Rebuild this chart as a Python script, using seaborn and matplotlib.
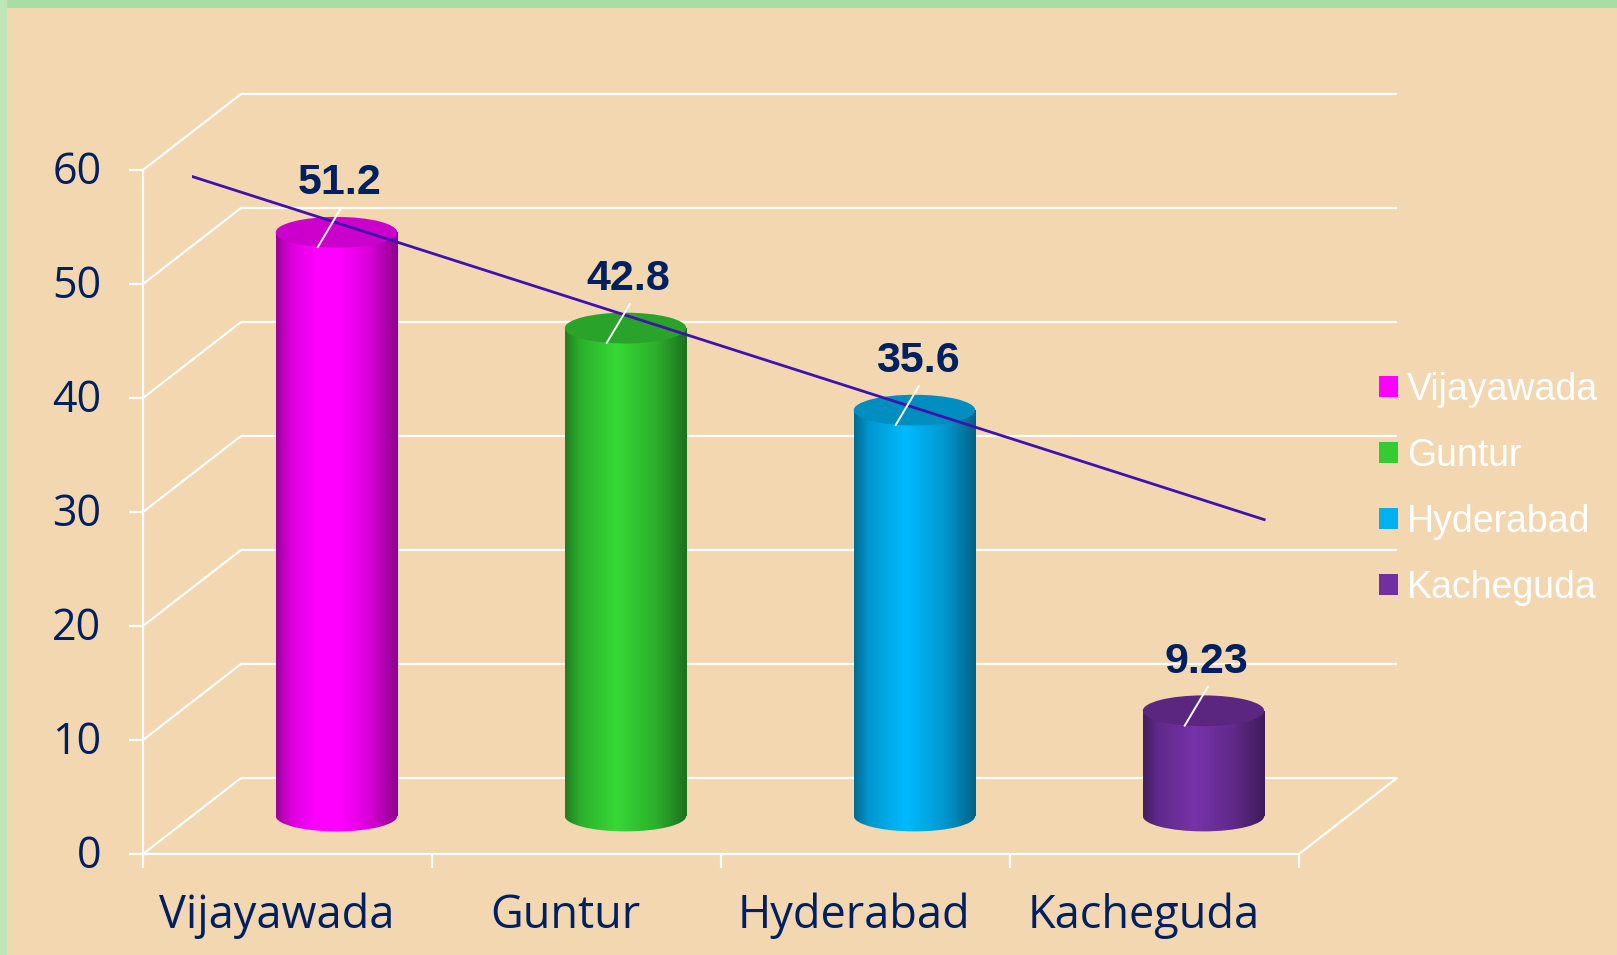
import numpy as np
import pandas as pd
import matplotlib
matplotlib.use("Agg")
import matplotlib.pyplot as plt
import matplotlib.transforms as mtransforms
from matplotlib.colors import to_rgb
from matplotlib.patches import Ellipse, Patch, Rectangle, ConnectionPatch
import seaborn as sns

# data
cities = ['Vijayawada', 'Guntur', 'Hyderabad', 'Kacheguda']
values = [51.2, 42.8, 35.6, 9.23]
value_labels = ['51.2', '42.8', '35.6', '9.23']
colors = ['#FF00FF', '#33CC33', '#00B0F0', '#7030A0']
y_ticks = [0, 10, 20, 30, 40, 50, 60]
# hand drawn trend line (category units, value units)
trend_x = [-0.5, 3.21]
trend_y = [56.1, 26.0]

BG = '#F2D7B0'
NAVY = '#002060'
DPI = 100
W, H = 1617, 955
DX, DY = 49, 38          # half depth of the 3d box, pixels
PX_UNIT = 11.4           # pixels per value unit
YMIN = -4

df = pd.DataFrame({'city': cities, 'value': values})

fig = plt.figure(figsize=(W / DPI, H / DPI), dpi=DPI, facecolor=BG)
ax = fig.add_axes([192 / W, (H - 816 - (-YMIN) * PX_UNIT) / H,
                   1156 / W, (60 - YMIN) * PX_UNIT / H])
ax.set_facecolor('none')

sns.barplot(data=df, x='city', y='value', hue='city', order=cities,
            palette=dict(zip(cities, colors)), width=0.42, legend=False,
            ax=ax, zorder=3)
bars = [p for p in ax.patches if isinstance(p, Rectangle)]

front = ax.transData + mtransforms.ScaledTranslation(-DX / DPI, -DY / DPI, fig.dpi_scale_trans)
back = ax.transData + mtransforms.ScaledTranslation(DX / DPI, DY / DPI, fig.dpi_scale_trans)

# walls and floor
line_kw = dict(color='white', lw=1.6, clip_on=False, solid_capstyle='butt')
for t in y_ticks:
    ax.plot([-0.5, 3.5], [t, t], transform=back, zorder=1, **line_kw)
    ax.add_artist(ConnectionPatch((-0.5, t), (-0.5, t), coordsA=front, coordsB=back,
                                  color='white', lw=1.6, clip_on=False, zorder=1))
ax.add_artist(ConnectionPatch((3.5, 0), (3.5, 0), coordsA=front, coordsB=back,
                              color='white', lw=1.6, clip_on=False, zorder=1))
ax.plot([-0.5, 3.5], [0, 0], transform=front, zorder=2, **line_kw)
ax.plot([-0.5, -0.5], [0, 60], transform=front, zorder=2, **line_kw)
ax.plot([-0.5] * len(y_ticks), y_ticks, transform=front, ls='none', marker=0,
        ms=10, mew=1.6, color='white', clip_on=False)
ax.plot(np.arange(len(cities) + 1) - 0.5, np.zeros(len(cities) + 1), transform=front,
        ls='none', marker=3, ms=10, mew=1.6, color='white', clip_on=False)


def shade(rgb, n=80):
    stops = [0.0, 0.12, 0.42, 0.75, 1.0]
    fac = [0.62, 0.86, 1.06, 0.86, 0.56]
    f = np.interp(np.linspace(0, 1, n), stops, fac)
    return np.clip(rgb[None, None, :] * f[None, :, None], 0, 1)


# cylinders
cap_h = 2.7
for patch in bars:
    x0, w, h = patch.get_x(), patch.get_width(), patch.get_height()
    if not np.isfinite(h) or w == 0:
        continue
    xc = x0 + w / 2
    i = int(round(xc))
    base = np.array(to_rgb(colors[i]))
    grad = shade(base)
    patch.set_facecolor('none')
    patch.set_edgecolor('none')
    img = ax.imshow(grad, extent=(x0, x0 + w, -cap_h, h + cap_h), aspect='auto',
                    interpolation='bilinear', zorder=3)
    img.set_clip_path(patch)
    bottom = Ellipse((xc, 0), w, cap_h, transform=ax.transData)
    img2 = ax.imshow(grad, extent=(x0, x0 + w, -cap_h, h + cap_h), aspect='auto',
                     interpolation='bilinear', zorder=3)
    img2.set_clip_path(bottom)
    ax.add_patch(Ellipse((xc, h), w, cap_h, facecolor=base * 0.8, edgecolor='none', zorder=4))

# trend line
sns.lineplot(x=trend_x, y=trend_y, ax=ax, color='#3F12B0', lw=2, zorder=5)

# value labels with leader lines
for i, (v, lab) in enumerate(zip(values, value_labels)):
    ax.plot([i + 0.015, i - 0.065], [v + 2.1, v - 1.3], color='white', lw=1.4, zorder=6)
    ax.text(i + 0.01, v + 4.3, lab, ha='center', va='center', fontsize=31,
            fontweight='bold', color=NAVY, family='Liberation Sans', zorder=6)

# axis text
for t in y_ticks:
    ax.annotate(str(t), xy=(-0.5, t), xycoords=front, xytext=(-30, -2),
                textcoords='offset points', ha='right', va='center',
                fontsize=31, color=NAVY, family='Open Sans')
for i, c in enumerate(cities):
    ax.annotate(c, xy=(i, 0), xycoords=front, xytext=(-8, -28),
                textcoords='offset points', ha='center', va='top',
                fontsize=32.5, color=NAVY, family='Open Sans')

ax.set_xlim(-0.5, 3.5)
ax.set_ylim(YMIN, 60)
ax.set(xlabel='', ylabel='', xticks=[], yticks=[])
for s in ax.spines.values():
    s.set_visible(False)

# legend
handles = [Patch(facecolor=c, edgecolor='none', label=n) for c, n in zip(colors, cities)]
fig.legend(handles=handles, loc='center left', bbox_to_anchor=(1379 / W, 1 - 489 / H),
           bbox_transform=fig.transFigure, frameon=False,
           prop={'family': 'Liberation Sans', 'size': 27}, labelcolor='white',
           handlelength=0.5, handleheight=0.5, handletextpad=0.25,
           labelspacing=0.8, borderpad=0, borderaxespad=0)

# green frame
fig.patches.append(Rectangle((0, 1 - 8 / H), 1, 8 / H, transform=fig.transFigure,
                             facecolor='#A8DDA4', edgecolor='none'))
fig.patches.append(Rectangle((0, 0), 7 / W, 1, transform=fig.transFigure,
                             facecolor='#BFE5B8', edgecolor='none'))

fig.savefig('out.png', dpi=DPI, facecolor=BG)
